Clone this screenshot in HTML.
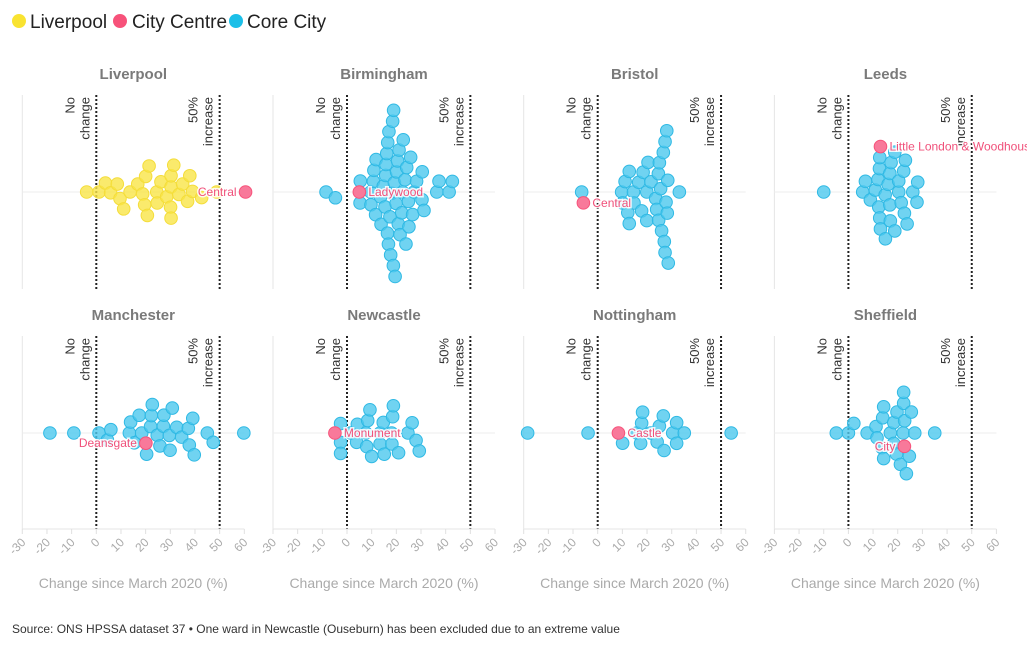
<!DOCTYPE html>
<html><head><meta charset="utf-8"><style>
body{margin:0;background:#fff;width:1027px;height:652px;overflow:hidden;font-family:"Liberation Sans",sans-serif}
svg{display:block}
</style></head><body>
<svg id="chart" width="1027" height="652">
<g font-size="19" fill="#222">
 <g><circle cx="19" cy="21" r="7" fill="#f9e331"/><text x="30" y="28">Liverpool</text></g>
 <g><circle cx="120" cy="21" r="7" fill="#f7527a"/><text x="132" y="28">City Centre</text></g>
 <g><circle cx="236" cy="21" r="7" fill="#1bbfe8"/><text x="247" y="28">Core City</text></g>
</g>
<text x="12" y="633" font-size="12" fill="#333">Source: ONS HPSSA dataset 37 • One ward in Newcastle (Ouseburn) has been excluded due to an extreme value</text>
</svg>
<script>
const cities = ["Liverpool","Birmingham","Bristol","Leeds","Manchester","Newcastle","Nottingham","Sheffield"];
const tickValues = [-30,-20,-10,0,10,20,30,40,50,60];
const liverpoolValues = [-3.9,1.1,3.7,5.8,8.5,9.6,11.1,13.7,16.8,18.8,19.6,20,20.7,21.4,24.5,24.7,26.2,28.5,30.1,30.3,30.3,30.3,31.4,33.5,35,37,37.9,39,42.7,48.8];
const birminghamValues = [-8.5,-4.7,5.3,5.4,9.6,9.7,10.7,10.9,11.6,11.8,13.6,13.8,14.7,15.4,15.7,15.8,16.1,16.4,16.5,16.8,17,17.4,17.7,18.1,18.5,18.8,18.9,19.2,19.5,19.9,20.1,20.5,20.8,21.1,21.5,22.2,22.6,22.8,23.5,23.9,24.2,24.9,25.1,25.8,26.6,27.2,28.2,30.4,30.5,31.2,36.4,37.3,41.4,42.7];
const bristolValues = [-6.5,9.7,10.1,11.1,12.2,12.8,12.8,14.5,14.7,16.6,17.8,18.4,19.9,19.9,20.4,21.6,23.5,23.9,24.6,24.7,25,25.5,25.9,26.6,27,27.3,27.3,27.7,28,28.2,28.4,28.6,33.1];
const leedsValues = [-10,5.8,6.9,8.9,10.9,12,12.3,12.6,12.7,13,12.7,14.9,15,16.1,16.8,16.8,17,17.3,18.8,18.8,20.4,20.4,21.4,22.4,22.7,23.1,23.8,26.1,27.8,28.1];
const manchesterValues = [-18.8,-9.1,1.1,4.5,5.9,13.4,13.9,15.4,17.4,18.4,20.4,22,22.3,22.7,24.7,25.8,27.2,27.4,29.6,29.9,30.8,32.6,34.6,37.3,37.7,39.1,39.7,45,47.4,59.8];
const newcastleValues = [-2.6,-2.6,-2.6,1.5,3.9,4.2,7.7,8,8.4,9.3,10,13.4,13.4,14.7,15.1,18.1,18.2,18.5,18.8,20.9,24.7,26.4,28,29.3];
const nottinghamValues = [-28.4,-3.9,10.1,15.8,17.4,17.8,18.2,21.5,24.1,25,26.6,26.9,30.4,32,32,35.1,54.1];
const sheffieldValues = [-4.9,0,2.2,7.6,11.2,11.6,13.6,13.9,14.3,14.3,17,18.4,18.4,19.5,19.7,21.1,22.2,22.4,22.4,22.8,23.5,24.7,25.5,26.9,35];
const centreNames = ["Central","Ladywood","Central","Little London & Woodhouse","Deansgate","Monument","Castle","City"];
const centreValues = [60.5,5,-5.8,13,20.1,-4.9,8.4,22.7];
const labelLeft = [true,false,false,false,true,false,false,true];
const allValues = [liverpoolValues,birminghamValues,bristolValues,leedsValues,manchesterValues,newcastleValues,nottinghamValues,sheffieldValues];

const NS="http://www.w3.org/2000/svg";
const svg=document.getElementById('chart');
function mk(tag,attrs,parent){const e=document.createElementNS(NS,tag);for(const k in attrs)e.setAttribute(k,attrs[k]);parent.appendChild(e);return e;}
const R=6.3, D=11;
function swarm(vals,xs){
  const items=vals.map((v,i)=>({x:xs(v.v),v:v})).sort((a,b)=>a.x-b.x);
  const placed=[];
  let flip=1;
  items.forEach(it=>{
    const cands=[0];
    placed.forEach(p=>{const dx=Math.abs(p.x-it.x);if(dx<D){const h=Math.sqrt(D*D-dx*dx);cands.push(p.y+h,p.y-h);}});
    cands.sort((a,b)=>Math.abs(a)-Math.abs(b)||(a-b)*flip);
    flip=-flip;
    for(const c of cands){
      if(placed.every(p=>(p.x-it.x)**2+(p.y-c)**2>=D*D-0.01)){it.y=c;break;}
    }
    placed.push(it);
  });
  return items;
}
cities.forEach((city,i)=>{
  const col=i%4,row=Math.floor(i/4);
  const zeroX=96.3+col*250.7;
  const xs=v=>zeroX+v*2.467;
  const top=row?336:95, bottom=row?529:289, cy=row?433:192;
  const g=mk('g',{},svg);
  
  
  const t=mk('text',{x:xs(15),y:top-16,'text-anchor':'middle','font-size':15,'font-weight':'bold',fill:'#7a7a7a'},g);
  t.textContent=city;
  
  
  const ax=mk('line',{x1:xs(-30),x2:xs(-30),y1:top,y2:bottom,stroke:'#e6e6e6','stroke-width':1},g);
  
  
  const gl=mk('line',{x1:xs(-30),x2:xs(60),y1:cy,y2:cy,stroke:'#eeeeee','stroke-width':1},g);
  
  
  [0,50].forEach(v=>{
    const l=mk('line',{x1:xs(v),x2:xs(v),y1:top,y2:bottom,stroke:'#222','stroke-width':2,'stroke-dasharray':'2,2'},g);
    
    
    const lines=v?['50%','increase']:['No','change'];
    lines.forEach((s,k)=>{
      const tx=xs(v)-22+k*15, ty=top+2;
      const a=mk('text',{x:tx,y:ty,'text-anchor':'end','font-size':13,fill:'#333',transform:`rotate(-90 ${tx} ${ty})`},g);
      a.textContent=s;
      
      
    });
  });
  if(row===1){
    const bl=mk('line',{x1:xs(-30),x2:xs(60),y1:bottom,y2:bottom,stroke:'#e6e6e6'},g);
    
    
    tickValues.forEach(v=>{
      const tk=mk('line',{x1:xs(v),x2:xs(v),y1:bottom,y2:bottom+5,stroke:'#e0e0e0'},g);
      
      
      const tx=xs(v)+4, ty=bottom+14;
      const tl=mk('text',{x:tx,y:ty,'text-anchor':'end','font-size':12,fill:'#aaa',transform:`rotate(-45 ${tx} ${ty})`},g);
      tl.textContent=v;
      
      
    });
    const xt=mk('text',{x:xs(15),y:588,'text-anchor':'middle','font-size':14,fill:'#aaa'},g);
    xt.textContent='Change since March 2020 (%)';
    
    
  }
  const vals=allValues[i].map(v=>({v:v,c:false}));
  vals.push({v:centreValues[i],c:true});
  const items=swarm(vals,xs);
  const fill=i===0?'#f9e547':'#4cc8ee', stroke=i===0?'#f4dd3a':'#2fb9e4';
  let cen=null;
  items.forEach(it=>{
    if(it.v.c){cen=it;return;}
    const c=mk('circle',{cx:it.x,cy:cy+it.y,r:R,fill:fill,'fill-opacity':0.8,stroke:stroke,'stroke-width':1},g);
    
    
  });
  const cc=mk('circle',{cx:cen.x,cy:cy+cen.y,r:R,fill:'#f8799a',stroke:'#f7527a','stroke-width':1},g);
  
  
  const left=labelLeft[i];
  const lab=mk('text',{x:cen.x+(left?-9:9),y:cy+cen.y+4,'text-anchor':left?'end':'start','font-size':12,fill:'#f0507a',stroke:'#fff','stroke-width':3,'paint-order':'stroke','stroke-opacity':0.85},g);
  lab.textContent=centreNames[i];
  
  
});
</script>
</body></html>
